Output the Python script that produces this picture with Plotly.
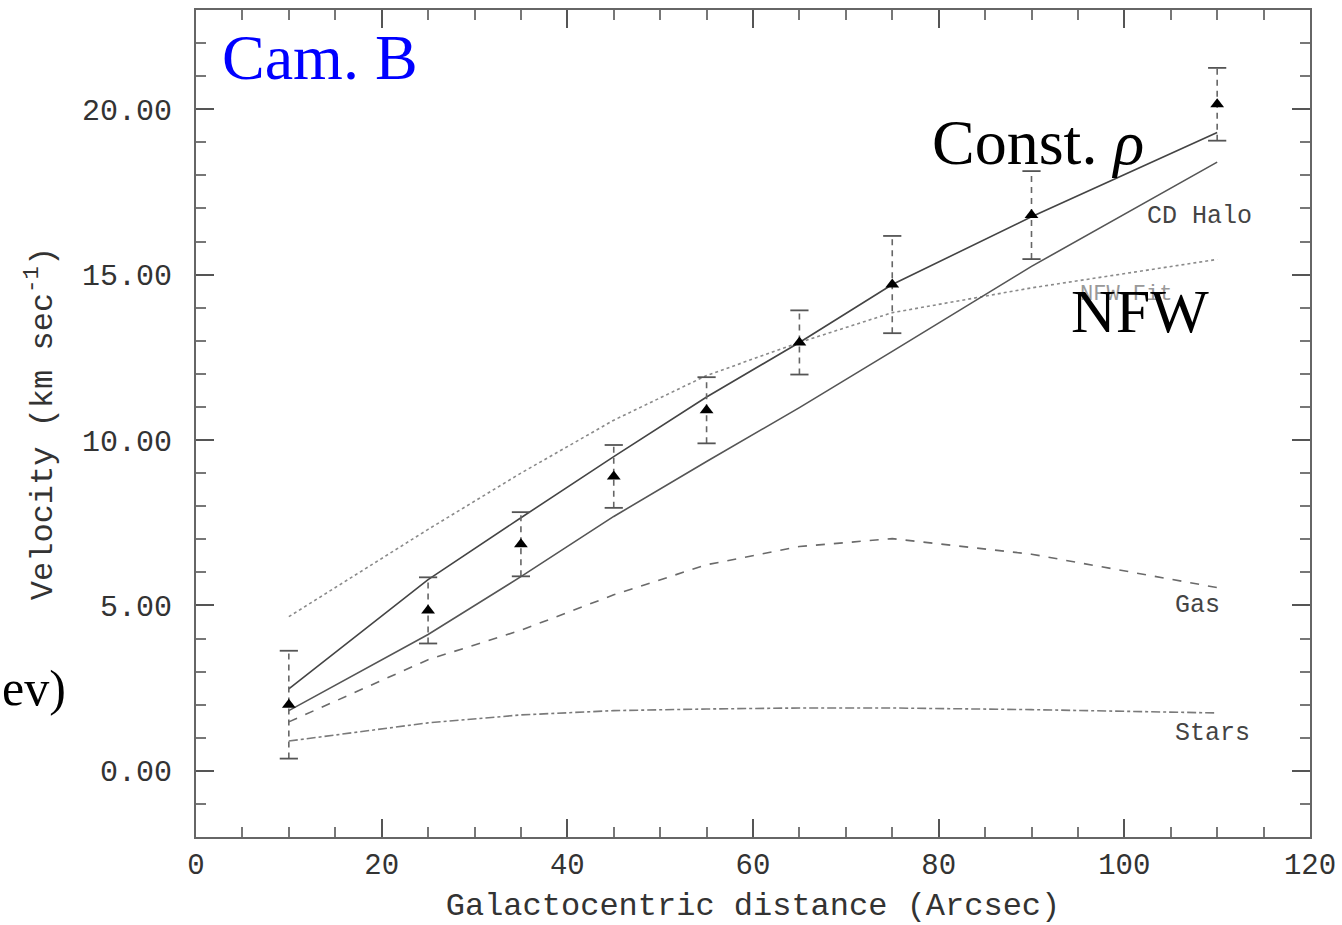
import plotly.graph_objects as go

# ---- data ----
radius = [10, 25, 35, 45, 55, 65, 75, 90, 110]
v_obs = [2.0, 4.85, 6.85, 8.9, 10.9, 12.95, 14.7, 16.8, 20.15]
v_err = [1.63, 1.0, 0.97, 0.95, 1.0, 0.97, 1.47, 1.33, 1.1]

v_const_rho = [2.48, 5.78, 7.65, 9.5, 11.3, 12.95, 14.7, 16.75, 19.3]
v_cd_halo = [1.82, 4.12, 5.87, 7.69, 9.35, 10.98, 12.68, 15.25, 18.4]
v_nfw = [4.66, 7.3, 9.0, 10.6, 11.95, 12.95, 13.85, 14.6, 15.46]
v_gas = [1.48, 3.36, 4.25, 5.32, 6.23, 6.78, 7.02, 6.55, 5.54]
v_stars = [0.9, 1.45, 1.69, 1.82, 1.87, 1.9, 1.9, 1.85, 1.75]

x_ticks = [0, 20, 40, 60, 80, 100, 120]
y_ticks = [0, 5, 10, 15, 20]
y_ticklabels = ["0.00", "5.00", "10.00", "15.00", "20.00"]

MONO = "Liberation Mono"
SERIF = "Liberation Serif"

fig = go.Figure()

# model curves
fig.add_trace(go.Scatter(x=radius, y=v_nfw, mode="lines",
                         line=dict(color="#8a8a8a", width=1.6, dash="dot"), name="NFW Fit"))
fig.add_trace(go.Scatter(x=radius, y=v_gas, mode="lines",
                         line=dict(color="#6a6a6a", width=1.6, dash="dash"), name="Gas"))
fig.add_trace(go.Scatter(x=radius, y=v_stars, mode="lines",
                         line=dict(color="#7a7a7a", width=1.6, dash="dashdot"), name="Stars"))
fig.add_trace(go.Scatter(x=radius, y=v_cd_halo, mode="lines",
                         line=dict(color="#555555", width=1.6), name="CD Halo"))
fig.add_trace(go.Scatter(x=radius, y=v_const_rho, mode="lines",
                         line=dict(color="#444444", width=1.6), name="Const rho"))

# error bars: dashed vertical segments + caps, built from the data arrays
ex, ey, cx, cy = [], [], [], []
for r, v, e in zip(radius, v_obs, v_err):
    ex += [r, r, None]
    ey += [v - e, v + e, None]
    cx += [r, r]
    cy += [v - e, v + e]
fig.add_trace(go.Scatter(x=ex, y=ey, mode="lines",
                         line=dict(color="#666666", width=1.6, dash="6px,5px")))
fig.add_trace(go.Scatter(x=cx, y=cy, mode="markers",
                         marker=dict(symbol="line-ew-open", size=13, color="#555555",
                                     line=dict(color="#555555", width=1.8))))
fig.add_trace(go.Scatter(x=radius, y=v_obs, mode="markers",
                         marker=dict(symbol="triangle-up", size=12, color="black")))

fig.update_xaxes(
    range=[0, 120], tickvals=x_ticks, ticks="inside", ticklen=18, tickwidth=2,
    tickcolor="#555555", showline=True, linecolor="#666666", linewidth=2,
    mirror="allticks", showgrid=False, zeroline=False, automargin=False,
    tickfont=dict(family=MONO, size=29, color="#333333"),
    minor=dict(dtick=5, ticks="inside", ticklen=10, tickwidth=2, tickcolor="#777777"),
    title=dict(text="Galactocentric distance (Arcsec)",
               font=dict(family=MONO, size=32, color="#333333"), standoff=21),
)
fig.update_yaxes(
    range=[-2, 23], tickvals=y_ticks, ticktext=y_ticklabels, ticks="inside",
    ticklen=18, tickwidth=2, tickcolor="#555555", showline=True,
    linecolor="#666666", linewidth=2, mirror="allticks", showgrid=False,
    zeroline=False, automargin=False,
    tickfont=dict(family=MONO, size=30, color="#333333"),
    ticklabelstandoff=16,
    minor=dict(dtick=1, ticks="inside", ticklen=10, tickwidth=2, tickcolor="#777777"),
    title=dict(text="Velocity (km sec<sup>-1</sup>)",
               font=dict(family=MONO, size=32, color="#333333"), standoff=20),
)

W, H = 1342, 925
L, R, T, B = 196, 32, 10, 88

annotations = [
    dict(text="Cam. B", x=2.55, y=21.55, xref="x", yref="y", xanchor="left",
         yanchor="middle", showarrow=False,
         font=dict(family=SERIF, size=64, color="#0000ff")),
    dict(text="Const. <i>ρ</i>", x=90.7, y=19.0, xref="x", yref="y", xanchor="center",
         yanchor="middle", showarrow=False,
         font=dict(family=SERIF, size=64, color="black")),
    dict(text="NFW Fit", x=100.2, y=14.4, xref="x", yref="y", xanchor="center",
         yanchor="middle", showarrow=False,
         font=dict(family=MONO, size=22, color="#999999")),
    dict(text="NFW", x=101.7, y=13.9, xref="x", yref="y", xanchor="center",
         yanchor="middle", showarrow=False,
         font=dict(family=SERIF, size=62, color="black")),
    dict(text="CD Halo", x=102.2, y=16.75, xref="x", yref="y", xanchor="left",
         yanchor="middle", showarrow=False,
         font=dict(family=MONO, size=25, color="#444444")),
    dict(text="Gas", x=105.2, y=5.0, xref="x", yref="y", xanchor="left",
         yanchor="middle", showarrow=False,
         font=dict(family=MONO, size=25, color="#444444")),
    dict(text="Stars", x=105.2, y=1.12, xref="x", yref="y", xanchor="left",
         yanchor="middle", showarrow=False,
         font=dict(family=MONO, size=25, color="#444444")),
    dict(text="ev)", x=(68 - L) / (W - L - R), y=(925 - 688 - B) / (H - T - B),
         xref="paper", yref="paper", showarrow=False, xanchor="right",
         yanchor="middle", font=dict(family=SERIF, size=50, color="black")),
]

fig.update_layout(
    width=W, height=H,
    margin=dict(l=L, r=R, t=T, b=B, autoexpand=False),
    plot_bgcolor="white", paper_bgcolor="white",
    showlegend=False, annotations=annotations,
)

fig.write_html("out.html")
